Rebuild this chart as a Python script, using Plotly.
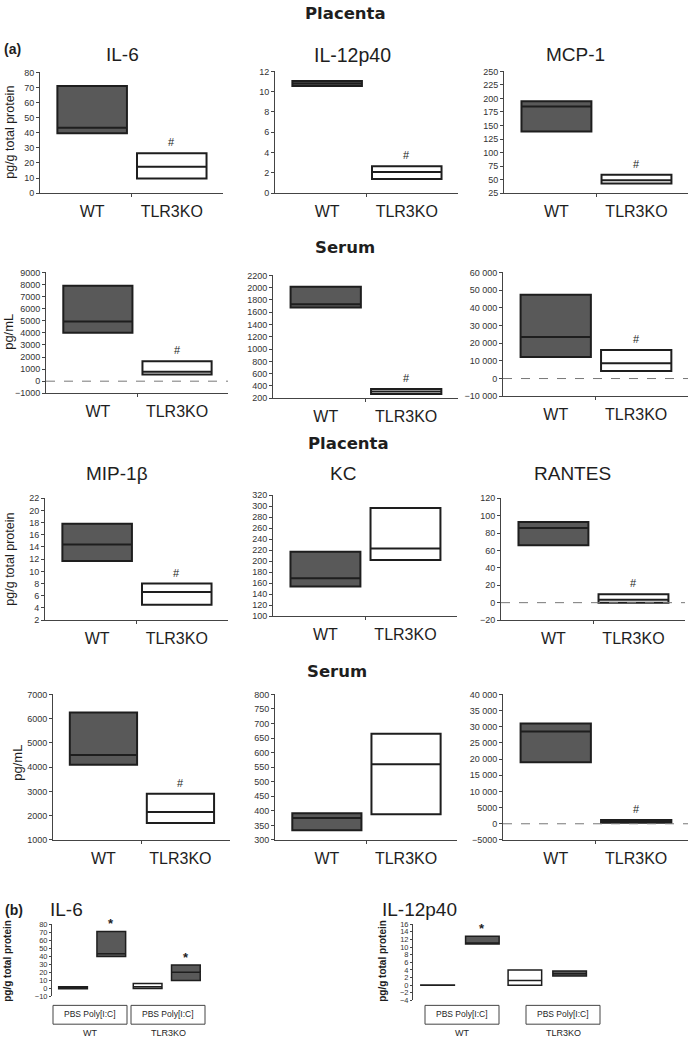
import plotly.graph_objects as go

W, H = 689, 1048
FONT = "Liberation Sans, Arial, sans-serif"
HEAD_FONT = "DejaVu Sans, Liberation Sans, sans-serif"
DARK = "#1e1e1e"
GREY_FILL = "#595959"

# ---------------- data ----------------
cats = ["WT", "TLR3KO"]

# Placenta row 1
il6_pl_q1 = [39.6, 9.8];   il6_pl_med = [43.3, 17.5];  il6_pl_q3 = [71.0, 26.4]
il12_pl_q1 = [10.55, 1.4]; il12_pl_med = [10.8, 2.08]; il12_pl_q3 = [11.04, 2.66]
mcp1_pl_q1 = [139, 43];    mcp1_pl_med = [185, 49];    mcp1_pl_q3 = [195, 59]
# Serum row 2
il6_se_q1 = [4014, 562];   il6_se_med = [4945, 781];   il6_se_q3 = [7904, 1658]
il12_se_q1 = [1678, 270];  il12_se_med = [1732, 310];  il12_se_q3 = [2017, 350]
mcp1_se_q1 = [12187, 4312]; mcp1_se_med = [23437, 8625]; mcp1_se_q3 = [47437, 16125]
# Placenta row 3
mip_pl_q1 = [11.7, 4.5];   mip_pl_med = [14.4, 6.6];   mip_pl_q3 = [17.8, 8.0]
kc_pl_q1 = [154, 202];     kc_pl_med = [169, 223];     kc_pl_q3 = [217, 297]
ran_pl_q1 = [65.9, 0.0];   ran_pl_med = [85.8, 3.5];   ran_pl_q3 = [92.6, 9.6]
# Serum row 4
mip_se_q1 = [4100, 1700];  mip_se_med = [4500, 2150];  mip_se_q3 = [6250, 2900]
kc_se_q1 = [333, 388];     kc_se_med = [375, 560];     kc_se_q3 = [392, 665]
ran_se_q1 = [19000, 300];  ran_se_med = [28500, 700];  ran_se_q3 = [31000, 1200]

# Panel (b)
b_groups = ["WT", "TLR3KO"]
b_treat = ["PBS", "Poly[I:C]"]
b_il6_q1 = [-0.5, 39.6, 0.0, 10.0]
b_il6_med = [0.5, 43.3, 2.0, 20.0]
b_il6_q3 = [2.0, 71.0, 6.0, 29.0]
b_il12_q1 = [0.0, 10.8, 0.0, 2.4]
b_il12_med = [0.0, 11.0, 1.2, 3.0]
b_il12_q3 = [0.05, 12.8, 4.0, 3.7]

# ---------------- layout helpers ----------------
fig = go.Figure()
layout = dict(width=W, height=H, margin=dict(l=0, r=0, t=0, b=0),
              paper_bgcolor="white", plot_bgcolor="white", showlegend=False,
              separators=". ", font=dict(family=FONT, color=DARK))
annotations = []
shapes = []

def px(x):
    return x / W

def py(y):
    return 1 - y / H

def text(x, y, s, size, bold=False, angle=0, color=DARK, xanchor="center", family=FONT):
    annotations.append(dict(x=px(x), y=py(y), xref="paper", yref="paper",
                            text=f"<b>{s}</b>" if bold else s, showarrow=False,
                            font=dict(size=size, family=family, color=color),
                            textangle=angle, xanchor=xanchor, yanchor="middle"))

WT_X, KO_X, BOX_W = 0.57, 1.44, 0.76

def panel(i, x0, x1, ytop, ybot, yrange, dtick, q1, med, q3, hashmark=True, zero=False):
    xa, ya = f"x{i}", f"y{i}"
    for k, pos in enumerate([WT_X, KO_X]):
        fig.add_trace(go.Box(x=[pos], q1=[q1[k]], median=[med[k]], q3=[q3[k]],
                             lowerfence=[q1[k]], upperfence=[q3[k]], width=BOX_W,
                             whiskerwidth=0, boxpoints=False,
                             fillcolor=GREY_FILL if k == 0 else "white",
                             line=dict(color=DARK, width=2),
                             xaxis=xa, yaxis=ya, hoverinfo="skip"))
    layout[f"xaxis{i}"] = dict(domain=[px(x0), px(x1)], range=[0, 2], anchor=ya,
                               showline=True, linecolor="#444", linewidth=1,
                               showgrid=False, zeroline=False,
                               tickmode="array", tickvals=[WT_X, KO_X], ticktext=cats,
                               ticks="", tickfont=dict(size=16, family=FONT, color=DARK),
                               ticklabelstandoff=4,
                               minor=dict(tickmode="array", tickvals=[1.0], ticks="outside",
                                          ticklen=3, tickcolor="#444", showgrid=False))
    layout[f"yaxis{i}"] = dict(domain=[py(ybot), py(ytop)], range=yrange, anchor=xa,
                               showline=True, linecolor="#444", linewidth=1,
                               showgrid=False, zeroline=False, dtick=dtick,
                               tick0=yrange[0], ticks="outside", ticklen=3,
                               tickcolor="#444", exponentformat="none",
                               tickfont=dict(size=9, family=FONT, color="#333"))
    if hashmark:
        annotations.append(dict(x=KO_X, y=q3[1], xref=xa, yref=ya, text="#",
                                showarrow=False, yanchor="bottom", yshift=3,
                                font=dict(size=11, family=FONT, color=DARK)))
    if zero:
        shapes.append(dict(type="line", xref=f"{xa} domain", yref=ya, x0=0, x1=1,
                           y0=0, y1=0, line=dict(color="#777", width=1, dash="dash")))

# Row 1 - placenta
text(345, 9, "Placenta", 16.5, bold=True, family=HEAD_FONT)
text(2, 44, "(a)", 14, bold=True, xanchor="left")
text(122, 50, "IL-6", 19); text(352, 50, "IL-12p40", 19.5); text(575, 50, "MCP-1", 19)
text(10, 129, "pg/g total protein", 12.5, angle=-90)
panel(1, 40, 223, 68, 190, [0, 80], 10, il6_pl_q1, il6_pl_med, il6_pl_q3)
panel(2, 275, 458, 67, 190, [0, 12], 2, il12_pl_q1, il12_pl_med, il12_pl_q3)
panel(3, 504, 688, 67, 190, [25, 250], 25, mcp1_pl_q1, mcp1_pl_med, mcp1_pl_q3)

# Row 2 - serum
text(345, 245, "Serum", 16.5, bold=True, family=HEAD_FONT)
text(9, 330, "pg/mL", 13, angle=-90)
panel(4, 46, 228, 270, 392, [-1000, 9000], 1000, il6_se_q1, il6_se_med, il6_se_q3, zero=True)
panel(5, 273, 458, 273, 397, [200, 2200], 200, il12_se_q1, il12_se_med, il12_se_q3)
panel(6, 503, 688, 270, 395, [-10000, 60000], 10000, mcp1_se_q1, mcp1_se_med, mcp1_se_q3, zero=True)

# Row 3 - placenta
text(348, 443, "Placenta", 16.5, bold=True, family=HEAD_FONT)
text(117, 473, "MIP-1β", 19); text(343, 473, "KC", 19); text(572, 473, "RANTES", 19)
text(10, 560, "pg/g total protein", 12.5, angle=-90)
panel(7, 45, 228, 498, 621, [2, 22], 2, mip_pl_q1, mip_pl_med, mip_pl_q3)
panel(8, 273, 457, 495, 617, [100, 320], 20, kc_pl_q1, kc_pl_med, kc_pl_q3, hashmark=False)
panel(9, 501, 685, 498, 621, [-20, 120], 20, ran_pl_q1, ran_pl_med, ran_pl_q3, zero=True)

# Row 4 - serum
text(337, 673, "Serum", 16.5, bold=True, family=HEAD_FONT)
text(18, 765, "pg/mL", 13, angle=-90)
panel(10, 53, 230, 696, 843, [1000, 7000], 1000, mip_se_q1, mip_se_med, mip_se_q3)
panel(11, 275, 457, 696, 843, [300, 800], 50, kc_se_q1, kc_se_med, kc_se_q3, hashmark=False)
panel(12, 503, 688, 696, 843, [-5000, 40000], 5000, ran_se_q1, ran_se_med, ran_se_q3, zero=True)

# ---------------- panel (b) ----------------
B_POS = [0.55, 1.55, 2.5, 3.5]
B_W = 0.75

def bpanel(i, x0, x1, ytop, ybot, yrange, dtick, q1, med, q3, stars, centers):
    xa, ya = f"x{i}", f"y{i}"
    for k, pos in enumerate(B_POS):
        fig.add_trace(go.Box(x=[pos], q1=[q1[k]], median=[med[k]], q3=[q3[k]],
                             lowerfence=[q1[k]], upperfence=[q3[k]], width=B_W,
                             whiskerwidth=0, boxpoints=False,
                             fillcolor="white" if k % 2 == 0 else GREY_FILL,
                             line=dict(color=DARK, width=1.5),
                             xaxis=xa, yaxis=ya, hoverinfo="skip"))
    layout[f"xaxis{i}"] = dict(domain=[px(x0), px(x1)], range=[0, 4], anchor=ya,
                               visible=False)
    layout[f"yaxis{i}"] = dict(domain=[py(ybot), py(ytop)], range=yrange, anchor=xa,
                               showline=True, linecolor="#444", linewidth=1,
                               showgrid=False, zeroline=False, dtick=dtick,
                               tick0=yrange[0], ticks="outside", ticklen=2,
                               tickcolor="#444",
                               tickfont=dict(size=7.5, family=FONT, color="#333"))
    for k in stars:
        annotations.append(dict(x=B_POS[k], y=q3[k], xref=xa, yref=ya, text="<b>*</b>",
                                showarrow=False, yanchor="bottom", yshift=-2,
                                font=dict(size=13, family=FONT, color=DARK)))
    # group labels
    for g, cx in enumerate(centers):
        text(cx, 1019, f"{b_treat[0]} {b_treat[1]}", 8.5)
        text(cx, 1038, b_groups[g], 9)
        shapes.append(dict(type="rect", xref="paper", yref="paper",
                           x0=px(cx - 37), x1=px(cx + 37), y0=py(1029), y1=py(1010),
                           line=dict(color="#444", width=1)))

text(3, 914, "(b)", 14, bold=True, xanchor="left")
text(66, 913, "IL-6", 19)
text(420, 913, "IL-12p40", 19)
text(8, 965, "pg/g total protein", 10, bold=True, angle=-90)
text(383, 965, "pg/g total protein", 10, bold=True, angle=-90)
bpanel(13, 52, 205, 928, 1001, [-10, 80], 10, b_il6_q1, b_il6_med, b_il6_q3, [1, 3],
       [90, 168])
bpanel(14, 413, 592, 928, 1005, [-4, 16], 2, b_il12_q1, b_il12_med, b_il12_q3, [1],
       [462, 563])

layout["annotations"] = annotations
layout["shapes"] = shapes
fig.update_layout(**layout)
fig.write_html(
    "out.html",
    config={"displayModeBar": False},
    post_script=("document.documentElement.style.margin='0';"
                 "document.body.style.margin='0';"
                 "document.body.style.overflow='hidden';"
                 "document.documentElement.style.overflow='hidden';"
                 "var d=document.querySelector('.plotly-graph-div');"
                 "d.style.position='fixed';d.style.left='0px';d.style.top='0px';"))
